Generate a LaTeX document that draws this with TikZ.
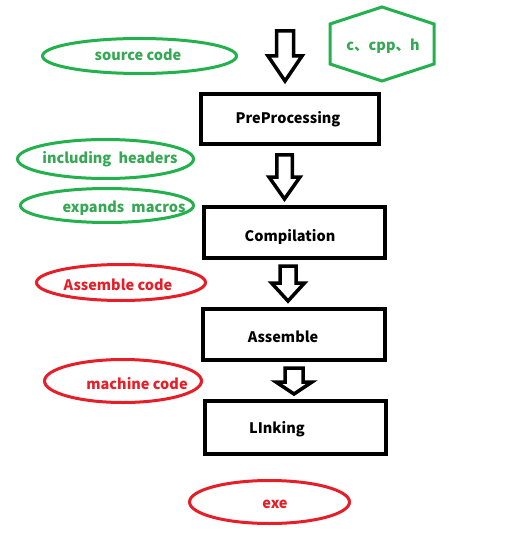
\documentclass[tikz,border=0pt]{standalone}
\usepackage{fontspec}
\setmainfont{Noto Sans CJK SC}
\usetikzlibrary{shapes.geometric}
\definecolor{pgreen}{RGB}{34,177,76}
\definecolor{tgreen}{RGB}{52,168,83}
\definecolor{pred}{RGB}{230,30,40}
\newcommand\blkarrow[6]{%
  \draw[blk] (#1-#5,#2) -- (#1+#5,#2) -- (#1+#5,#3) -- (#1+#6,#3) -- (#1,#4)
    -- (#1-#6,#3) -- (#1-#5,#3) -- cycle;}
\begin{document}
\begin{tikzpicture}[x=1pt,y=-1pt,
  txt/.style={font=\bfseries\fontsize{14.5}{16}\selectfont, inner sep=0pt},
  box/.style={draw, line width=4pt, minimum width=#1, inner sep=0pt},
  gell/.style={ellipse, draw=pgreen, line width=3pt, inner sep=0pt},
  rell/.style={ellipse, draw=pred, line width=3pt, inner sep=0pt},
  gtxt/.style={txt, text=tgreen},
  rtxt/.style={txt, text=pred},
  blk/.style={draw=black, line width=3.5pt, fill=white, line join=miter}]
\useasboundingbox[fill=white] (0,0) rectangle (511,540);

% boxes
\node[box=178pt, minimum height=50pt] (pre) at (290,119) {};
\node[txt] (preT) at (288,119) {PreProcessing};
\node[box=181pt, minimum height=51pt] (comp) at (294.5,232.5) {};
\node[txt] (compT) at (290,237) {Compilation};
\node[box=182pt, minimum height=51pt] (asm) at (294,334.5) {};
\node[txt] (asmT) at (283,337) {Assemble};
\node[box=181pt, minimum height=53pt] (link) at (295.5,427.5) {};
\node[txt] (linkT) at (277,429) {LInking};

% block arrows
\blkarrow{285}{31}{56}{81}{8.5}{17}
\blkarrow{284.5}{155}{177}{199}{7.75}{15.5}
\blkarrow{288}{266}{283}{301}{8}{16.5}
\blkarrow{294}{368}{382}{394}{9}{18}

% green ellipses
\node[gell, minimum width=194pt, minimum height=35pt] (src) at (139.5,56) {};
\node[gtxt] (srcT) at (138,55) {source code};
\node[gell, minimum width=176pt, minimum height=39pt] (inc) at (105.5,159) {};
\node[gtxt] (incT) at (110,159) {including\hspace{0.5em}headers};
\node[gell, minimum width=173pt, minimum height=34pt] (exp) at (107,205.5) {};
\node[gtxt] (expT) at (124,208) {expands\hspace{0.5em}macros};

% hexagon
\draw[pgreen, line width=3pt, line join=miter]
  (382,7) -- (434,24) -- (434,64) -- (382,81) -- (330,64) -- (330,24) -- cycle;
\node[gtxt] (hexT) at (383,46) {c、cpp、h};

% red ellipses
\node[rell, minimum width=169pt, minimum height=36pt] (asmc) at (121,282.5) {};
\node[rtxt] (asmcT) at (118,285) {Assemble code};
\node[rell, minimum width=157pt, minimum height=43pt] (mach) at (123,381) {};
\node[rtxt] (machT) at (137,384) {machine code};
\node[rell, minimum width=160pt, minimum height=43pt] (exe) at (269.5,502) {};
\node[rtxt] (exeT) at (275,504) {exe};
\end{tikzpicture}
\end{document}
